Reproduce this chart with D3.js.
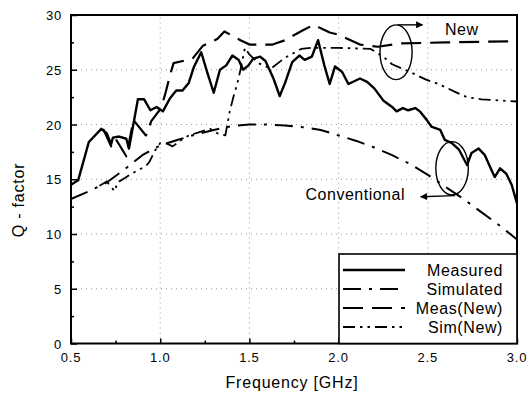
<!DOCTYPE html>
<html>
<head>
<meta charset="utf-8">
<script src="https://cdn.jsdelivr.net/npm/d3@7"></script>
<style>
  body { margin: 0; background: #fff; }
  svg { font-family: "Liberation Sans", Arial, sans-serif; }
  .tick-label { font-size: 13px; }
  .grid line { stroke: #999; stroke-width: 1; stroke-dasharray: 1,4; }
</style>
</head>
<body>
<script>

// Measured (conventional)
var measF = [0.5, 0.54, 0.6, 0.67, 0.70, 0.725, 0.735, 0.77, 0.81, 0.825, 0.875, 0.91, 0.945, 0.98, 1.015, 1.055, 1.09, 1.125, 1.16, 1.19, 1.23, 1.265, 1.30, 1.335, 1.37, 1.405, 1.44, 1.465, 1.495, 1.52, 1.56, 1.59, 1.635, 1.67, 1.70, 1.74, 1.78, 1.81, 1.85, 1.885, 1.92, 1.95, 1.98, 2.02, 2.055, 2.12, 2.16, 2.20, 2.25, 2.30, 2.325, 2.36, 2.39, 2.43, 2.455, 2.495, 2.52, 2.57, 2.595, 2.635, 2.675, 2.72, 2.745, 2.785, 2.82, 2.85, 2.875, 2.905, 2.94, 2.97, 3.0];
var measQ = [14.5, 14.9, 18.4, 19.6, 19.2, 18.2, 18.8, 18.9, 18.7, 17.8, 22.3, 22.3, 21.3, 21.6, 21.2, 22.4, 23.1, 23.1, 23.8, 25.3, 26.6, 24.7, 22.9, 25.0, 25.4, 26.3, 25.9, 25.0, 25.4, 26.0, 26.2, 25.8, 24.2, 22.6, 23.8, 25.7, 26.3, 25.9, 26.2, 27.7, 25.4, 23.7, 25.3, 24.8, 23.7, 24.2, 23.9, 23.3, 22.2, 21.6, 21.2, 21.5, 21.3, 21.5, 21.2, 20.4, 19.8, 19.5, 18.6, 18.3, 17.7, 16.3, 17.4, 17.8, 17.2, 16.1, 15.2, 16.0, 15.5, 14.5, 12.8];

// Simulated (conventional)
var simF = [0.5, 0.6, 0.7, 0.8, 0.9, 1.0, 1.1, 1.2, 1.3, 1.4, 1.5, 1.6, 1.7, 1.8, 1.9, 2.0, 2.1, 2.2, 2.3, 2.4, 2.5, 2.6, 2.7, 2.8, 2.9, 3.0];
var simQ = [13.2, 13.9, 14.7, 15.9, 17.2, 18.1, 18.6, 19.1, 19.5, 19.85, 20.0, 20.0, 19.9, 19.75, 19.5, 19.0, 18.5, 17.9, 17.2, 16.4, 15.4, 14.3, 13.2, 12.0, 10.8, 9.5];

// Measured (new)
var measNewF = [0.68, 0.725, 0.75, 0.81, 0.85, 0.92, 0.95, 1.005, 1.03, 1.055, 1.075, 1.18, 1.24, 1.32, 1.36, 1.45, 1.50, 1.63, 1.70, 1.80, 1.86, 1.95, 2.0, 2.12, 2.22, 2.35, 2.6, 3.0];
var measNewQ = [19.6, 18.0, 18.7, 17.1, 20.4, 19.0, 20.3, 21.5, 22.9, 24.5, 25.6, 26.0, 27.2, 27.8, 28.5, 27.7, 27.3, 27.3, 27.7, 28.6, 29.1, 28.4, 28.2, 27.3, 27.1, 27.4, 27.5, 27.6];

// Simulated (new)
var simNewF = [0.66, 0.70, 0.745, 0.76, 0.80, 0.85, 0.885, 0.92, 0.94, 0.97, 1.0, 1.03, 1.07, 1.12, 1.16, 1.22, 1.28, 1.32, 1.365, 1.39, 1.41, 1.43, 1.45, 1.475, 1.50, 1.55, 1.62, 1.70, 1.79, 1.85, 2.0, 2.18, 2.25, 2.30, 2.40, 2.49, 2.56, 2.65, 2.72, 2.80, 2.9, 3.0];
var simNewQ = [14.4, 14.8, 13.9, 14.7, 15.1, 15.6, 15.9, 16.2, 16.6, 17.6, 18.3, 18.3, 18.0, 18.6, 19.0, 19.3, 19.6, 19.2, 19.0, 21.2, 22.5, 23.6, 25.0, 27.0, 26.4, 25.6, 25.1, 26.1, 26.9, 27.0, 27.0, 26.9, 26.2, 25.5, 24.8, 24.1, 23.7, 23.0, 22.5, 22.3, 22.2, 22.1];

var xTicks = [0.5, 1.0, 1.5, 2.0, 2.5, 3.0];
var yTicks = [0, 5, 10, 15, 20, 25, 30];
var legendNames = ["Measured", "Simulated", "Meas(New)", "Sim(New)"];

var w = 529, h = 394;
var margin = {top: 15, left: 71, right: 12, bottom: 50.5};

var x = d3.scaleLinear().domain([0.5, 3.0]).range([margin.left, w - margin.right]);
var y = d3.scaleLinear().domain([0, 30]).range([h - margin.bottom, margin.top]);

var styles = [
  {width: 2.4, dash: null},
  {width: 2, dash: "18,8,3,8"},
  {width: 2.2, dash: "20,9"},
  {width: 1.8, dash: "12,5,2.5,5,2.5,5"}
];

var svg = d3.select("body").append("svg")
  .attr("width", w)
  .attr("height", h);

// grid
var grid = svg.append("g").attr("class", "grid");
grid.selectAll(".gx")
  .data([1.0, 1.5, 2.0, 2.5])
  .enter().append("line")
  .attr("x1", function(d) { return x(d); })
  .attr("x2", function(d) { return x(d); })
  .attr("y1", y(0)).attr("y2", y(30));
grid.selectAll(".gy")
  .data([5, 10, 15, 20, 25])
  .enter().append("line")
  .attr("x1", x(0.5)).attr("x2", x(3.0))
  .attr("y1", function(d) { return y(d); })
  .attr("y2", function(d) { return y(d); });

// axes with inward ticks
var xAxis = d3.axisBottom(x).tickValues(d3.range(0.5, 3.01, 0.25)).tickSize(-5).tickFormat("");
var yAxis = d3.axisLeft(y).tickValues(d3.range(0, 30.1, 2.5)).tickSize(-5).tickFormat("");

svg.append("g")
  .attr("transform", "translate(0," + y(0) + ")")
  .call(xAxis)
  .call(function(g) {
    g.select(".domain").remove();
    g.selectAll(".tick line").attr("stroke-width", 1.5)
      .attr("y2", function(d) { return (Math.round(d * 2) === d * 2) ? -5 : -3; });
  });

svg.append("g")
  .attr("transform", "translate(" + x(0.5) + ",0)")
  .call(yAxis)
  .call(function(g) {
    g.select(".domain").remove();
    g.selectAll(".tick line").attr("stroke-width", 1.5)
      .attr("x2", function(d) { return (d % 5 === 0) ? 6 : 3; });
  });

// tick labels
svg.selectAll(".xl")
  .data(xTicks)
  .enter().append("text")
  .attr("class", "tick-label")
  .attr("x", function(d) { return x(d); })
  .attr("y", y(0) + 18)
  .attr("text-anchor", "middle")
  .style("letter-spacing", "0.8px")
  .text(function(d) { return d3.format(".1f")(d); });

svg.selectAll(".yl")
  .data(yTicks)
  .enter().append("text")
  .attr("class", "tick-label")
  .attr("x", x(0.5) - 9)
  .attr("y", function(d) { return y(d) + 5; })
  .attr("text-anchor", "end")
  .style("letter-spacing", "0.8px")
  .text(function(d) { return d; });

// axis titles
svg.append("text")
  .attr("x", 292)
  .attr("y", 388)
  .attr("text-anchor", "middle")
  .style("font-size", "16px")
  .style("letter-spacing", "0.8px")
  .text("Frequency [GHz]");

svg.append("text")
  .attr("transform", "translate(24,200) rotate(-90)")
  .attr("text-anchor", "middle")
  .style("font-size", "16px")
  .style("letter-spacing", "0.8px")
  .text("Q - factor");

// lines
var series = [
  {f: measF, q: measQ},
  {f: simF, q: simQ},
  {f: measNewF, q: measNewQ},
  {f: simNewF, q: simNewQ}
];

var line = d3.line()
  .x(function(d) { return x(d[0]); })
  .y(function(d) { return y(d[1]); });

series.forEach(function(s, i) {
  var pts = s.f.map(function(f, j) { return [f, s.q[j]]; });
  svg.append("path")
    .datum(pts)
    .attr("fill", "none")
    .attr("stroke", "#000")
    .attr("stroke-width", styles[i].width)
    .attr("stroke-linejoin", "round")
    .attr("stroke-dasharray", styles[i].dash)
    .attr("d", line);
});

// annotations
svg.append("defs").append("marker")
  .attr("id", "arr")
  .attr("viewBox", "0 0 10 10")
  .attr("refX", 9).attr("refY", 5)
  .attr("markerWidth", 9).attr("markerHeight", 7)
  .attr("markerUnits", "userSpaceOnUse")
  .attr("orient", "auto")
  .append("path")
  .attr("d", "M0,0 L10,5 L0,10 Z")
  .attr("fill", "#000");

var ellipses = [
  {f: 2.322, q: 26.6, rf: 0.09, rq: 2.5},
  {f: 2.636, q: 16.0, rf: 0.091, rq: 2.44}
];
svg.selectAll(".ell")
  .data(ellipses)
  .enter().append("ellipse")
  .attr("cx", function(d) { return x(d.f); })
  .attr("cy", function(d) { return y(d.q); })
  .attr("rx", function(d) { return x(d.f + d.rf) - x(d.f); })
  .attr("ry", function(d) { return y(d.q - d.rq) - y(d.q); })
  .attr("fill", "none")
  .attr("stroke", "#000")
  .attr("stroke-width", 1.4);

var arrows = [
  {f1: 2.33, q1: 29.1, f2: 2.47, q2: 29.1},
  {f1: 2.652, q1: 13.5, f2: 2.46, q2: 13.4}
];
svg.selectAll(".arrow")
  .data(arrows)
  .enter().append("line")
  .attr("x1", function(d) { return x(d.f1); })
  .attr("y1", function(d) { return y(d.q1); })
  .attr("x2", function(d) { return x(d.f2); })
  .attr("y2", function(d) { return y(d.q2); })
  .attr("stroke", "#000")
  .attr("stroke-width", 1.4)
  .attr("marker-end", "url(#arr)");

svg.append("text")
  .attr("x", x(2.596)).attr("y", y(28.2))
  .style("font-size", "16px")
  .style("letter-spacing", "0.5px")
  .text("New");

svg.append("text")
  .attr("x", x(2.372)).attr("y", y(13.1))
  .attr("text-anchor", "end")
  .style("font-size", "16px")
  .style("letter-spacing", "0.5px")
  .text("Conventional");

// frame
svg.append("rect")
  .attr("x", x(0.5)).attr("y", y(30))
  .attr("width", x(3.0) - x(0.5))
  .attr("height", y(0) - y(30))
  .attr("fill", "none")
  .attr("stroke", "#000")
  .attr("stroke-width", 2);

// legend
var lg = svg.append("g");
lg.append("rect")
  .attr("x", 339).attr("y", 254)
  .attr("width", x(3.0) - 339)
  .attr("height", y(0) - 254)
  .attr("fill", "#fff")
  .attr("stroke", "#000")
  .attr("stroke-width", 1.6);

legendNames.forEach(function(name, i) {
  var ly = 270 + i * 19;
  lg.append("line")
    .attr("x1", 343).attr("x2", 405)
    .attr("y1", ly).attr("y2", ly)
    .attr("stroke", "#000")
    .attr("stroke-width", styles[i].width)
    .attr("stroke-dasharray", styles[i].dash);
  lg.append("text")
    .attr("x", 503).attr("y", ly + 5.5)
    .attr("text-anchor", "end")
    .style("font-size", "16px")
    .style("letter-spacing", "0.6px")
    .text(name);
});

</script>
</body>
</html>
